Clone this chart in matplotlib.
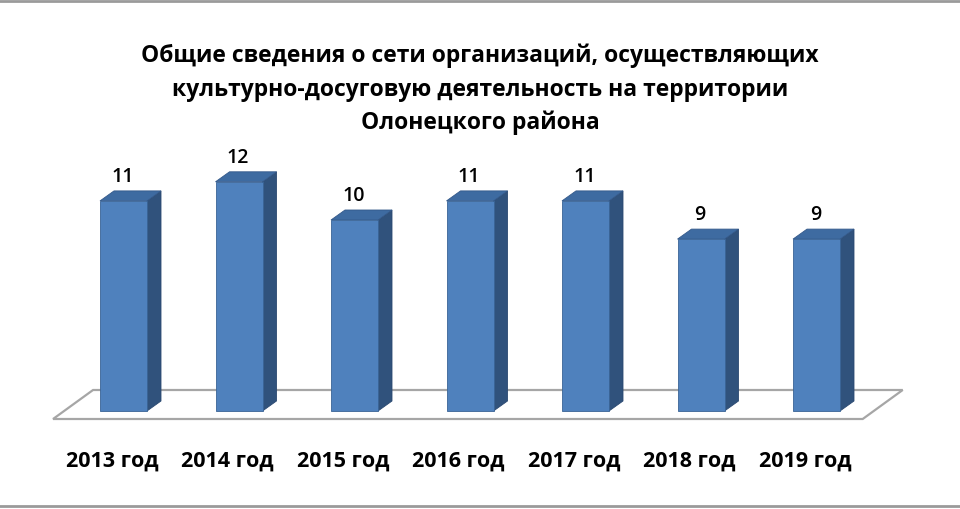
import matplotlib
matplotlib.use("Agg")
import matplotlib.pyplot as plt
from matplotlib.patches import Polygon, Rectangle
from matplotlib.lines import Line2D

plt.rcParams['font.family'] = ['Open Sans', 'DejaVu Sans']

categories = ["2013 год", "2014 год", "2015 год", "2016 год", "2017 год", "2018 год", "2019 год"]
values = [11, 12, 10, 11, 11, 9, 9]
title_lines = ["Общие сведения о сети организаций, осуществляющих",
               "культурно-досуговую деятельность на территории",
               "Олонецкого района"]

W, H = 960, 510
fig = plt.figure(figsize=(W / 100, H / 100), dpi=100)
ax = fig.add_axes([0, 0, 1, 1])
ax.set_axis_off()

x0_px, step_px = 123.5, 115.5
y0_px, unit_px = 412.0, 19.1
ax.set_xlim(-x0_px / step_px, (W - x0_px) / step_px)
ax.set_ylim((y0_px - H) / unit_px, y0_px / unit_px)

bw = 47 / step_px
ddx = 14 / step_px
ddy = 10 / unit_px

front_c = "#4F81BD"
side_c = "#30527C"
top_c = "#3E6BA1"
edge_c = "#3A6496"

# floor
fdx = 40 / step_px
fdy = 29 / unit_px
fl = -0.61
fr = 6.40
fy = -8 / unit_px
floor = Polygon([(fl, fy), (fr, fy), (fr + fdx, fy + fdy), (fl + fdx, fy + fdy)],
                closed=True, facecolor="white", edgecolor="#A6A6A6", lw=1.6, zorder=1)
ax.add_patch(floor)

for i, v in enumerate(values):
    l, r = i - bw / 2, i + bw / 2
    ax.add_patch(Polygon([(r, 0), (r + ddx, ddy), (r + ddx, v + ddy), (r, v)],
                         closed=True, facecolor=side_c, edgecolor="#2A4870", lw=0.6, zorder=3))
    ax.add_patch(Polygon([(l, v), (r, v), (r + ddx, v + ddy), (l + ddx, v + ddy)],
                         closed=True, facecolor=top_c, edgecolor="#34598A", lw=0.6, zorder=3))
    ax.add_patch(Rectangle((l, 0), bw, v, facecolor=front_c, edgecolor=edge_c, lw=0.6, zorder=4))
    ax.text(i - 0.01, v + 1.3, str(v), ha="center", va="center", fontsize=14,
            fontweight="semibold", color="black", zorder=5)
    ax.text(i - 0.10, -2.55, categories[i], ha="center", va="center", fontsize=15.5,
            fontweight="bold", color="black", zorder=5)

for k, line in enumerate(title_lines):
    fig.text(0.5, 1 - (56 + 33.5 * k) / H, line, ha="center", va="center",
             fontsize=16.5, fontweight="bold", color="black")

# frame lines (top and bottom)
for yp in (2, 507):
    fig.add_artist(Line2D([0, 1], [1 - yp / H, 1 - yp / H], transform=fig.transFigure,
                          color="#9A9A9A", lw=2))

fig.savefig("out.png", dpi=100)
